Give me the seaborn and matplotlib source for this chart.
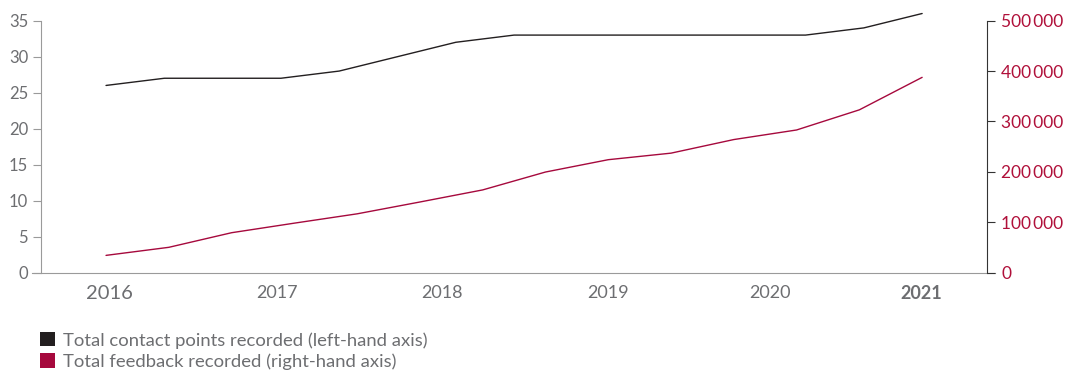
import numpy as np
import pandas as pd
import matplotlib.pyplot as plt
import seaborn as sns
from matplotlib.patches import Patch
from matplotlib.ticker import FuncFormatter

# data
contact_points = [26, 27, 27, 27, 28, 30, 32, 33, 33, 33, 33, 33, 33, 34, 36]
feedback = [34000, 50000, 79000, 98000, 116500, 140000, 164000, 199500,
            224000, 237000, 264000, 283000, 323000, 387500]
# both series span the same period, sampled at different intervals
contact_t = np.linspace(0, 14, len(contact_points))
feedback_t = np.linspace(0, 14, len(feedback))
year_labels = ["2016", "2017", "2018", "2019", "2020", "2021"]
year_pos = [0.05, 2.93, 5.76, 8.61, 11.39, 13.98]

BLACK = "#231f20"
CRIMSON = "#a6093d"
GREY = "#6d6e71"

contact_df = pd.DataFrame({"t": contact_t, "value": contact_points})
feedback_df = pd.DataFrame({"t": feedback_t, "value": feedback})

sns.set_style("white")
plt.rcParams["font.family"] = ["Lato", "DejaVu Sans"]

fig = plt.figure(figsize=(10.67, 3.73), dpi=100)
ax = fig.add_axes([32 / 1067, 100.5 / 373, 963 / 1067, 251.8 / 373])
ax2 = ax.twinx()

sns.lineplot(data=contact_df, x="t", y="value", ax=ax, color=BLACK, linewidth=1.0)
sns.lineplot(data=feedback_df, x="t", y="value", ax=ax2, color=CRIMSON, linewidth=1.0)
for line in ax.lines + ax2.lines:
    line.set_clip_on(False)

ax.set_xlim(-1.27, 15.25)
ax.set_ylim(0, 35)
ax2.set_ylim(0, 500000)
ax.set_yticks(range(0, 36, 5))
ax2.set_yticks(range(0, 500001, 100000))
ax2.yaxis.set_major_formatter(FuncFormatter(lambda v, p: f"{int(v):,}".replace(",", "\u2009")))

# spines
for a in (ax, ax2):
    a.spines["top"].set_visible(False)
    a.set_xlabel("")
    a.set_ylabel("")
ax.spines["right"].set_visible(False)
ax.spines["left"].set_position(("axes", 8.7 / 963))
ax.spines["left"].set_color("#9a9a9a")
ax.spines["bottom"].set_color("#9a9a9a")
ax2.spines["left"].set_visible(False)
ax2.spines["bottom"].set_visible(False)
ax2.spines["right"].set_position(("axes", 955.3 / 963))
ax2.spines["right"].set_color("#333333")

ax.tick_params(axis="y", direction="out", length=6, width=0.8, color="#9a9a9a",
               labelcolor=GREY, labelsize=12, pad=3, left=True)
ax2.tick_params(axis="y", direction="out", length=6, width=0.8, color="#333333",
                labelcolor="#b0103a", labelsize=12.5, pad=4, right=True)

ax.set_xticks(year_pos)
ax.set_xticklabels(year_labels)
ax.tick_params(axis="x", length=0, labelcolor=GREY, labelsize=13, pad=9)
labels = ax.get_xticklabels()
labels[0].set_fontsize(14.5)
labels[-1].set_fontweight("bold")

handles = [Patch(facecolor=BLACK, edgecolor="none"), Patch(facecolor=CRIMSON, edgecolor="none")]
leg = fig.legend(handles, ["Total contact points recorded (left-hand axis)",
                           "Total feedback recorded (right-hand axis)"],
                 loc="upper left", bbox_to_anchor=(40 / 1067, 1 - 332 / 373),
                 frameon=False, fontsize=13.3, handlelength=0.82, handleheight=0.82,
                 handletextpad=0.45, labelspacing=0.25, borderpad=0, borderaxespad=0)
for t in leg.get_texts():
    t.set_color(GREY)

fig.savefig("out.png", dpi=100)
